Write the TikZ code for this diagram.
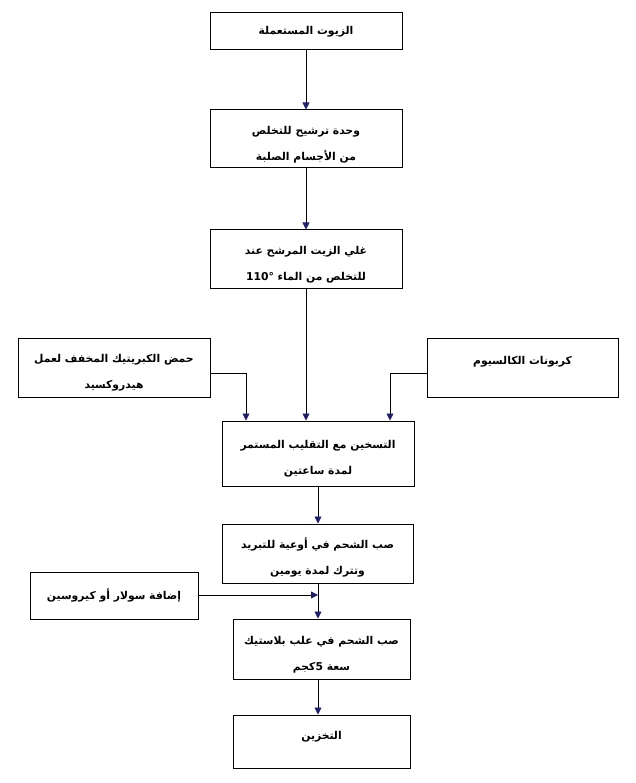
\documentclass[tikz,border=0pt]{standalone}
\usepackage{fontspec}
\usetikzlibrary{arrows.meta}
\TeXXeTstate=1
\newfontfamily\arabicfont[Script=Arabic]{DejaVu Sans}
\newfontfamily\latinfont{DejaVu Sans}
\newcommand{\artxt}[1]{{\arabicfont\bfseries\beginR #1\endR}}
\newcommand{\topgap}{\rule{0pt}{19pt}}
\definecolor{tipblue}{rgb}{0.12,0.12,0.42}
\tikzset{
  box/.style={draw, line width=1pt, rectangle, align=center, inner sep=0pt,
    font=\fontsize{10.8}{26}\selectfont},
  arr/.style={line width=0.8pt, -{Triangle[width=7pt,length=7pt,color=tipblue]}}
}
\begin{document}
\begin{tikzpicture}[x=1pt,y=-1pt]
\useasboundingbox (0,0) rectangle (635,783);
\node[box, minimum width=192pt, minimum height=37pt] (b1) at (306,31.5) {\artxt{الزيوت المستعملة}};
\node[box, minimum width=192pt, minimum height=58pt] (b2) at (306,139) {\topgap\artxt{وحدة ترشيح للتخلص}\\\artxt{من الأجسام الصلبة}};
\node[box, minimum width=192pt, minimum height=58pt] (b3) at (306,259) {\topgap\artxt{غلي الزيت المرشح عند}\\\artxt{للتخلص من الماء\ \beginL{\latinfont\bfseries 110°}\endL}};
\node[box, minimum width=192pt, minimum height=59pt] (b4) at (114,367.5) {\topgap\artxt{حمض الكبريتيك المخفف لعمل}\\\artxt{هيدروكسيد}};
\node[box, minimum width=191pt, minimum height=59pt] (b5) at (522.5,367.5) {\topgap\artxt{كربونات الكالسيوم}\\\mbox{}};
\node[box, minimum width=192pt, minimum height=65pt] (b6) at (318,453.5) {\topgap\artxt{التسخين مع التقليب المستمر}\\\artxt{لمدة ساعتين}};
\node[box, minimum width=191pt, minimum height=59pt] (b7) at (317.5,553.5) {\topgap\artxt{صب الشحم في أوعية للتبريد}\\\artxt{وتترك لمدة يومين}};
\node[box, minimum width=168pt, minimum height=47pt] (b8) at (114,595.5) {\artxt{إضافة سولار أو كيروسين}};
\node[box, minimum width=177pt, minimum height=60pt] (b9) at (321.5,649) {\topgap\artxt{صب الشحم في علب بلاستيك}\\\artxt{سعة \beginL 5\endL كجم}};
\node[box, minimum width=177pt, minimum height=53pt] (b10) at (321.5,741.5) {\raisebox{12pt}{\artxt{التخزين}}};
% connectors
\draw[arr] (b1.south) -- (b2.north);
\draw[arr] (b2.south) -- (b3.north);
\draw[arr] (b3.south) -- (b3.south |- b6.north);
\coordinate (j4) at (246,373);
\coordinate (j5) at (390,373);
\draw[arr] (j4 -| b4.east) -- (j4) -- (j4 |- b6.north);
\draw[arr] (j5 -| b5.west) -- (j5) -- (j5 |- b6.north);
\coordinate (j8) at (318,595);
\draw[arr] (j8 |- b6.south) -- (j8 |- b7.north);
\draw[arr] (j8 -| b8.east) -- (j8);
\draw[arr] (j8 |- b7.south) -- (j8 |- b9.north);
\draw[arr] (j8 |- b9.south) -- (j8 |- b10.north);
\end{tikzpicture}
\end{document}
